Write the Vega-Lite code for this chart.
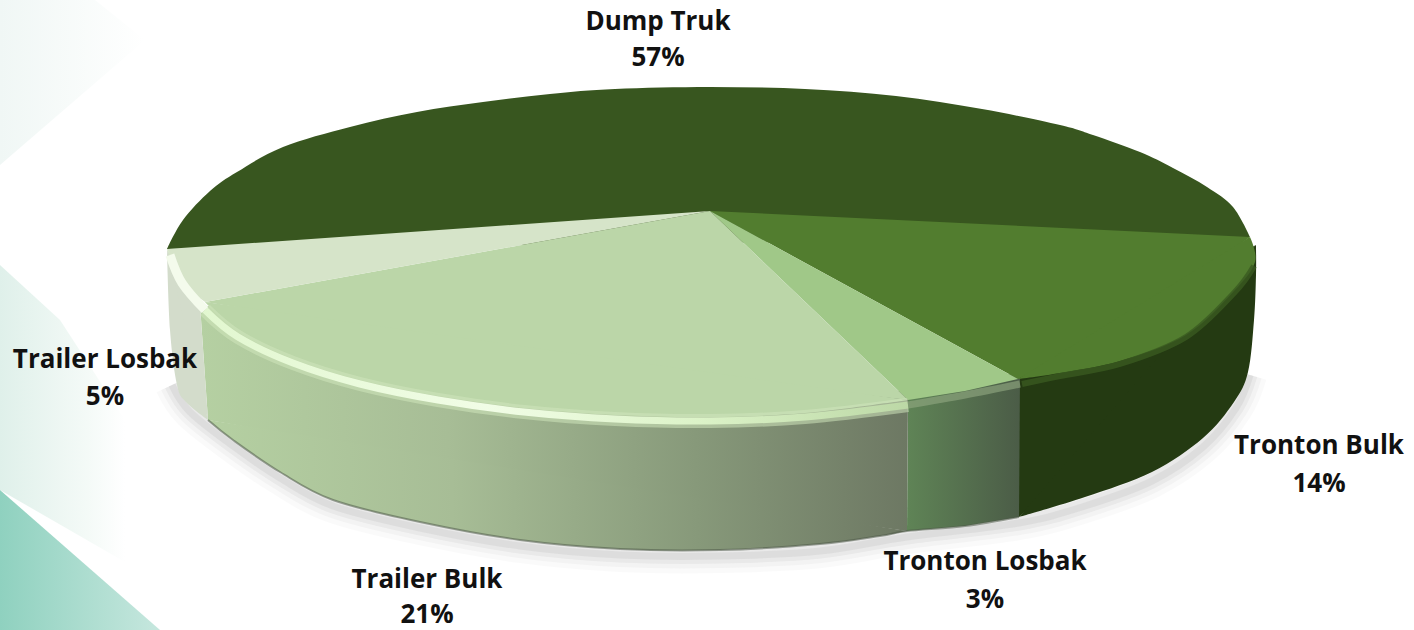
{
"$schema":"https://vega.github.io/schema/vega-lite/v6.json",
"width":1414,"height":630,"padding":0,
"autosize":{"type":"fit","contains":"padding"},
"background":"white",
"config":{"view":{"stroke":null}},
"encoding":{
"x":{"field":"x","type":"quantitative","axis":null,"scale":{"domain":[0,1414],"nice":false,"zero":false}},
"y":{"field":"y","type":"quantitative","axis":null,"scale":{"domain":[630,0],"nice":false,"zero":false}}
},
"layer":[
{"data":{"values":[{"i":1,"x":0,"y":0},{"i":2,"x":95,"y":0},{"i":3,"x":145,"y":40},{"i":4,"x":0,"y":165}]},
"mark":{"type":"line","filled":true,"stroke":null,"fill":{"gradient":"linear","x1":0,"x2":1,"y1":0,"y2":0,"stops":[{"offset":0,"color":"#f0f7f5"},{"offset":1,"color":"#ffffff"}]}},
"encoding":{"order":{"field":"i"}}},
{"data":{"values":[{"i":1,"x":0,"y":265},{"i":2,"x":60,"y":320},{"i":3,"x":125,"y":420},{"i":4,"x":125,"y":562},{"i":5,"x":0,"y":490}]},
"mark":{"type":"line","filled":true,"stroke":null,"fill":{"gradient":"linear","x1":0,"x2":1,"y1":0,"y2":0,"stops":[{"offset":0,"color":"#dff0ea"},{"offset":0.7,"color":"#f4faf7"},{"offset":1,"color":"#ffffff"}]}},
"encoding":{"order":{"field":"i"}}},
{"data":{"values":[{"i":1,"x":0,"y":490},{"i":2,"x":160,"y":630},{"i":3,"x":0,"y":630}]},
"mark":{"type":"line","filled":true,"stroke":null,"fill":{"gradient":"linear","x1":0,"x2":1,"y1":0,"y2":0,"stops":[{"offset":0,"color":"#8fd1bf"},{"offset":1,"color":"#c6e7de"}]}},
"encoding":{"order":{"field":"i"}}},
{"data":{"name":"shadow","values":[{"i":1,"x":172,"y":385},{"i":2,"x":190,"y":412},{"i":3,"x":233,"y":446},{"i":4,"x":280,"y":478},{"i":5,"x":333,"y":506},{"i":6,"x":420,"y":528},{"i":7,"x":520,"y":546},{"i":8,"x":620,"y":555},{"i":9,"x":720,"y":556},{"i":10,"x":820,"y":551},{"i":11,"x":907,"y":537},{"i":12,"x":1019,"y":523},{"i":13,"x":1085,"y":506},{"i":14,"x":1152,"y":481},{"i":15,"x":1203,"y":447},{"i":16,"x":1236,"y":408},{"i":17,"x":1250,"y":375}]},
"mark":{"type":"line","stroke":"#888888","strokeWidth":34,"opacity":0.04,"interpolate":"cardinal"},
"encoding":{"order":{"field":"i"}}},
{"data":{"name":"shadow"},
"mark":{"type":"line","stroke":"#888888","strokeWidth":24,"opacity":0.06,"interpolate":"cardinal"},
"encoding":{"order":{"field":"i"}}},
{"data":{"name":"shadow"},
"mark":{"type":"line","stroke":"#888888","strokeWidth":15,"opacity":0.09,"interpolate":"cardinal"},
"encoding":{"order":{"field":"i"}}},
{"data":{"name":"shadow"},
"mark":{"type":"line","stroke":"#888888","strokeWidth":7,"opacity":0.12,"interpolate":"cardinal"},
"encoding":{"order":{"field":"i"}}},
{"data":{"values":[{"i":1,"x":1256,"y":245},{"i":2,"x":1015,"y":370},{"i":3,"x":1019,"y":517},{"i":4,"x":1145,"y":390}]},
"mark":{"type":"line","filled":true,"stroke":null,"fill":"#243a12"},
"encoding":{"order":{"field":"i"}}},
{"data":{"values":[{"i":1,"x":1256,"y":245},{"i":2,"x":1256,"y":275},{"i":3,"x":1254,"y":320},{"i":4,"x":1248,"y":372},{"i":5,"x":1234,"y":402},{"i":6,"x":1203,"y":438},{"i":7,"x":1152,"y":472},{"i":8,"x":1085,"y":497},{"i":9,"x":1019,"y":517}]},
"mark":{"type":"line","filled":true,"stroke":null,"fill":"#243a12","interpolate":"cardinal"},
"encoding":{"order":{"field":"i"}}},
{"data":{"values":[{"i":1,"x":1020,"y":372},{"i":2,"x":908,"y":392},{"i":3,"x":907,"y":531},{"i":4,"x":965,"y":526},{"i":5,"x":1019,"y":517}]},
"mark":{"type":"line","filled":true,"stroke":null,"fill":{"gradient":"linear","x1":0,"x2":1,"y1":0,"y2":0,"stops":[{"offset":0,"color":"#5f8456"},{"offset":1,"color":"#4b5c47"}]}},
"encoding":{"order":{"field":"i"}}},
{"data":{"values":[{"i":1,"x":908,"y":392},{"i":2,"x":200,"y":305},{"i":3,"x":208,"y":420},{"i":4,"x":557,"y":482},{"i":5,"x":907,"y":531}]},
"mark":{"type":"line","filled":true,"stroke":null,"fill":{"gradient":"linear","x1":0,"x2":1,"y1":0,"y2":0,"stops":[{"offset":0,"color":"#b5d0a2"},{"offset":0.35,"color":"#a7bd96"},{"offset":0.7,"color":"#87997a"},{"offset":1,"color":"#6d7863"}]}},
"encoding":{"order":{"field":"i"}}},
{"data":{"values":[{"i":1,"x":208,"y":420},{"i":2,"x":233,"y":440},{"i":3,"x":280,"y":472},{"i":4,"x":333,"y":500},{"i":5,"x":420,"y":522},{"i":6,"x":520,"y":540},{"i":7,"x":620,"y":549},{"i":8,"x":720,"y":550},{"i":9,"x":820,"y":544},{"i":10,"x":880,"y":536},{"i":11,"x":907,"y":531}]},
"mark":{"type":"line","filled":true,"stroke":null,"interpolate":"cardinal","fill":{"gradient":"linear","x1":0,"x2":1,"y1":0,"y2":0,"stops":[{"offset":0,"color":"#b5d0a2"},{"offset":0.35,"color":"#a7bd96"},{"offset":0.7,"color":"#87997a"},{"offset":1,"color":"#6d7863"}]}},
"encoding":{"order":{"field":"i"}}},
{"data":{"values":[{"i":1,"x":200,"y":305},{"i":2,"x":167,"y":250},{"i":3,"x":182,"y":336},{"i":4,"x":208,"y":420}]},
"mark":{"type":"line","filled":true,"stroke":null,"fill":"#d3dccb"},
"encoding":{"order":{"field":"i"}}},
{"data":{"values":[{"i":1,"x":167,"y":250},{"i":2,"x":170,"y":330},{"i":3,"x":177,"y":385},{"i":4,"x":186,"y":402},{"i":5,"x":208,"y":420}]},
"mark":{"type":"line","filled":true,"stroke":null,"fill":"#d3dccb","interpolate":"cardinal"},
"encoding":{"order":{"field":"i"}}},
{"data":{"values":[{"i":1,"x":208,"y":420},{"i":2,"x":233,"y":440},{"i":3,"x":280,"y":472},{"i":4,"x":333,"y":500},{"i":5,"x":420,"y":522},{"i":6,"x":520,"y":540},{"i":7,"x":620,"y":549},{"i":8,"x":720,"y":550},{"i":9,"x":820,"y":544},{"i":10,"x":880,"y":536},{"i":11,"x":907,"y":531},{"i":12,"x":965,"y":526},{"i":13,"x":1019,"y":517}]},
"mark":{"type":"line","stroke":"#4f5a48","strokeWidth":2,"opacity":0.55,"interpolate":"cardinal"},
"encoding":{"order":{"field":"i"}}},
{"data":{"values":[
{"i":1,"x":167,"y":249},{"i":2,"x":183,"y":220},{"i":3,"x":210,"y":191},{"i":4,"x":237,"y":172},{"i":5,"x":283,"y":147},{"i":6,"x":350,"y":127},{"i":7,"x":417,"y":112},{"i":8,"x":483,"y":102},{"i":9,"x":550,"y":94},{"i":10,"x":615,"y":89},{"i":11,"x":710,"y":87},{"i":12,"x":805,"y":89},{"i":13,"x":896,"y":96},{"i":14,"x":982,"y":109},{"i":15,"x":1060,"y":125},{"i":16,"x":1093,"y":135},{"i":17,"x":1140,"y":152},{"i":18,"x":1173,"y":168},{"i":19,"x":1207,"y":187},{"i":20,"x":1233,"y":207},{"i":21,"x":1250,"y":237}
]},
"mark":{"type":"line","filled":true,"stroke":null,"fill":"#38561f","interpolate":"cardinal"},
"encoding":{"order":{"field":"i"}}},
{"data":{"values":[
{"part":"Tronton Bulk","i":1,"x":710,"y":211},{"part":"Tronton Bulk","i":2,"x":1250,"y":237},{"part":"Tronton Bulk","i":3,"x":1140,"y":318},{"part":"Tronton Bulk","i":4,"x":1018,"y":379},
{"part":"Tronton Losbak","i":1,"x":710,"y":211},{"part":"Tronton Losbak","i":2,"x":1018,"y":379},{"part":"Tronton Losbak","i":3,"x":965,"y":391},{"part":"Tronton Losbak","i":4,"x":908,"y":400},
{"part":"Trailer Bulk","i":1,"x":710,"y":211},{"part":"Trailer Bulk","i":2,"x":908,"y":400},{"part":"Trailer Bulk","i":3,"x":556,"y":358},{"part":"Trailer Bulk","i":4,"x":205,"y":302},
{"part":"Trailer Losbak","i":1,"x":710,"y":211},{"part":"Trailer Losbak","i":2,"x":205,"y":302},{"part":"Trailer Losbak","i":3,"x":183,"y":277},{"part":"Trailer Losbak","i":4,"x":167,"y":249}
]},
"mark":{"type":"line","filled":true,"stroke":null},
"encoding":{"order":{"field":"i"},"color":{"field":"part","type":"nominal","legend":null,"scale":{"domain":["Tronton Bulk","Tronton Losbak","Trailer Bulk","Trailer Losbak"],"range":["#527d2f","#a0c888","#bbd6a8","#d6e4c9"]}}}},
{"data":{"values":[
{"part":"Tronton Bulk","i":1,"x":1250,"y":237},{"part":"Tronton Bulk","i":2,"x":1255,"y":262},{"part":"Tronton Bulk","i":3,"x":1234,"y":291},{"part":"Tronton Bulk","i":4,"x":1186,"y":335},{"part":"Tronton Bulk","i":5,"x":1120,"y":361},{"part":"Tronton Bulk","i":6,"x":1060,"y":373},{"part":"Tronton Bulk","i":7,"x":1018,"y":379},
{"part":"Trailer Bulk","i":1,"x":908,"y":400},{"part":"Trailer Bulk","i":2,"x":805,"y":413},{"part":"Trailer Bulk","i":3,"x":710,"y":417},{"part":"Trailer Bulk","i":4,"x":615,"y":415},{"part":"Trailer Bulk","i":5,"x":524,"y":408},{"part":"Trailer Bulk","i":6,"x":438,"y":396},{"part":"Trailer Bulk","i":7,"x":360,"y":380},{"part":"Trailer Bulk","i":8,"x":293,"y":359},{"part":"Trailer Bulk","i":9,"x":238,"y":332},{"part":"Trailer Bulk","i":10,"x":205,"y":302},
{"part":"Trailer Losbak","i":1,"x":205,"y":302},{"part":"Trailer Losbak","i":2,"x":180,"y":280},{"part":"Trailer Losbak","i":3,"x":167,"y":249}
]},
"mark":{"type":"line","filled":true,"stroke":null,"interpolate":"cardinal"},
"encoding":{"order":{"field":"i"},"color":{"field":"part","type":"nominal","legend":null,"scale":{"domain":["Tronton Bulk","Tronton Losbak","Trailer Bulk","Trailer Losbak"],"range":["#527d2f","#a0c888","#bbd6a8","#d6e4c9"]}}}},
{"data":{"name":"glow","values":[{"i":1,"x":908,"y":405},{"i":2,"x":805,"y":417},{"i":3,"x":710,"y":421},{"i":4,"x":615,"y":419},{"i":5,"x":524,"y":412},{"i":6,"x":438,"y":400},{"i":7,"x":360,"y":384},{"i":8,"x":293,"y":363},{"i":9,"x":238,"y":337},{"i":10,"x":205,"y":310}]},
"mark":{"type":"line","strokeWidth":14,"opacity":0.55,"interpolate":"cardinal","stroke":"#cfe6bb"},
"encoding":{"order":{"field":"i"}}},
{"data":{"name":"glow"},
"mark":{"type":"line","strokeWidth":7,"interpolate":"cardinal","stroke":{"gradient":"linear","x1":0,"x2":1,"y1":0,"y2":0,"stops":[{"offset":0,"color":"#e2f7d0"},{"offset":0.4,"color":"#f1fde6"},{"offset":0.7,"color":"#dcf3c8"},{"offset":1,"color":"#bcd8a6"}]}},
"encoding":{"order":{"field":"i"}}},
{"data":{"values":[{"i":1,"x":205,"y":310},{"i":2,"x":182,"y":283},{"i":3,"x":170,"y":255}]},
"mark":{"type":"line","strokeWidth":9,"stroke":"#f4fbec","interpolate":"cardinal"},
"encoding":{"order":{"field":"i"}}},
{"data":{"values":[{"i":1,"x":1020,"y":384},{"i":2,"x":965,"y":395},{"i":3,"x":908,"y":405}]},
"mark":{"type":"line","strokeWidth":7,"stroke":"#8fa67f","opacity":0.65,"interpolate":"cardinal"},
"encoding":{"order":{"field":"i"}}},
{"data":{"values":[{"i":1,"x":1254,"y":266},{"i":2,"x":1234,"y":293},{"i":3,"x":1186,"y":337},{"i":4,"x":1120,"y":364},{"i":5,"x":1060,"y":376},{"i":6,"x":1022,"y":384}]},
"mark":{"type":"line","strokeWidth":6,"stroke":"#3a5a20","opacity":0.8,"interpolate":"cardinal"},
"encoding":{"order":{"field":"i"}}},
{"data":{"values":[
{"t":"Dump Truk","x":658,"y":22},{"t":"57%","x":658,"y":58},
{"t":"Trailer Losbak","x":105,"y":360},{"t":"5%","x":105,"y":397},
{"t":"Tronton Bulk","x":1319,"y":446},{"t":"14%","x":1319,"y":484},
{"t":"Tronton Losbak","x":985,"y":562},{"t":"3%","x":985,"y":600},
{"t":"Trailer Bulk","x":427,"y":580},{"t":"21%","x":427,"y":615}
]},
"mark":{"type":"text","font":"Open Sans","fontWeight":"bold","fontSize":26,"color":"#111111","align":"center","baseline":"middle"},
"encoding":{"text":{"field":"t"}}}
]
}
